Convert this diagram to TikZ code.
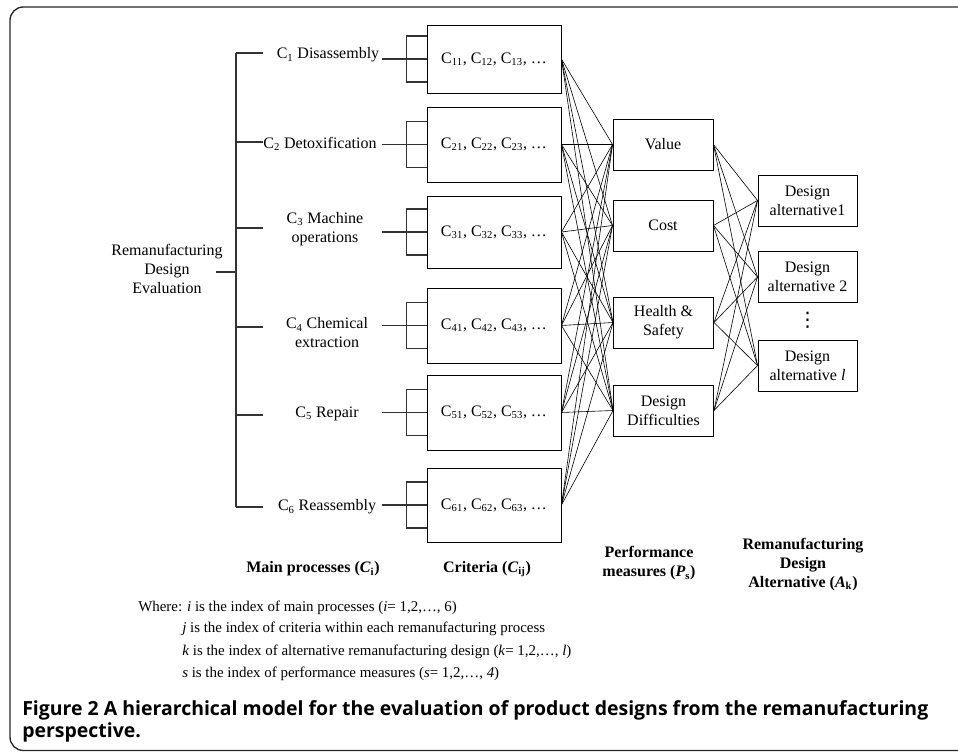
\documentclass[tikz,border=0pt]{standalone}
\usepackage{fontspec}
\setmainfont{Liberation Serif}
\newfontfamily\capfont{Open Sans}
\newfontfamily\symfont{DejaVu Sans}
\usetikzlibrary{positioning,calc}
\tikzset{
    treeline/.style={draw=black!80, line width=0.9pt},
    link/.style={draw=black, line width=0.45pt},
    critbox/.style={draw, line width=0.7pt, minimum width=100.5pt, inner sep=0pt},
    perfbox/.style={draw, line width=0.7pt, minimum width=75pt, minimum height=38.25pt, align=center, inner sep=0pt},
    altbox/.style={perfbox, minimum width=74.25pt},
    proc/.style={align=center, inner sep=0pt},
    axislabel/.style={font=\bfseries\fontsize{12}{14.25}\selectfont, align=center, inner sep=0pt},
    whereline/.style={font=\fontsize{11.2}{13}\selectfont, anchor=base west, inner sep=0pt},
    capline/.style={font=\capfont\bfseries\fontsize{14.6}{17}\selectfont, anchor=base west, inner sep=0pt}
}
\begin{document}
\begin{tikzpicture}[x=0.75pt, y=-0.75pt, font=\fontsize{12}{14.25}\selectfont]
    \useasboundingbox (0,0) rectangle (958,752);
    % outer frame
    \draw[line width=1pt, black!85, rounded corners=10] (962,7) -- (10,7) -- (10,750.5) -- (962,750.5);

    % root and main processes
    \node[proc] (root) at (167,269) {Remanufacturing\\Design\\Evaluation};
    \coordinate (trunktop) at (236,53);
    \coordinate (trunkbot) at (236,507);
    \coordinate (rootstub) at (216,272);
    \draw[treeline] (trunktop) -- (trunkbot);
    \draw[treeline] (rootstub) -- (rootstub -| trunktop);

    \node[proc] (p1) at (328,55) {C\textsubscript{1} Disassembly};
    \node[proc] (p2) at (320,144) {C\textsubscript{2} Detoxification};
    \node[proc] (p3) at (325,229) {C\textsubscript{3} Machine\\operations};
    \node[proc] (p4) at (327,333) {C\textsubscript{4} Chemical\\extraction};
    \node[proc] (p5) at (327,414) {C\textsubscript{5} Repair};
    \node[proc] (p6) at (327,507) {C\textsubscript{6} Reassembly};

    \foreach \i/\y in {1/53,2/142,3/228,4/327,5/415,6/507} {
        \coordinate (br\i) at (263,\y);
        \draw[treeline] (br\i -| trunktop) -- (br\i);
    }

    % criteria
    \foreach \i/\y/\h in {1/59/68,2/144.5/75,3/232/72,4/325.5/75,5/412.5/75,6/505/74} {
        \node[critbox, minimum height=\h*0.75pt] (c\i) at (494,\y)
            {C\textsubscript{\i1}, C\textsubscript{\i2}, C\textsubscript{\i3}, \ldots};
        \draw[treeline] (c\i.west) -- ++(-45,0);
        \draw[treeline] ($(c\i.west)+(0,-23)$) -- ++(-20,0) -- ++(0,46) -- ++(20,0);
    }

    % performance measures
    \node[perfbox] (value) at (663,144.5) {Value};
    \node[perfbox] (cost) at (663,225.5) {Cost};
    \node[perfbox] (health) at (663.5,322.5) {Health \&\\Safety};
    \node[perfbox] (diff) at (663.5,410.5) {Design\\Difficulties};

    % design alternatives
    \node[altbox] (alt1) at (807.5,200.5) {Design\\alternative1};
    \node[altbox] (alt2) at (807.5,277) {Design\\alternative 2};
    \node[altbox] (altl) at (807.5,365.5) {Design\\alternative \textit{l}};
    \node[inner sep=0pt, font=\symfont\fontsize{15}{15}\selectfont] (vdots) at (807.5,320.5) {⋮};

    \foreach \i in {1,...,6}
        \foreach \p in {value,cost,health,diff}
            \draw[link] (c\i.east) -- (\p.west);
    \foreach \p in {value,cost,health,diff}
        \foreach \a in {alt1,alt2,altl}
            \draw[link] (\p.east) -- (\a.west);

    % level labels
    \node[axislabel] (lproc) at (313,569) {Main processes (\textit{C}\textsubscript{i})};
    \node[axislabel] (lcrit) at (487,569) {Criteria (\textit{C}\textsubscript{ij})};
    \node[axislabel] (lperf) at (649,563.5) {Performance\\measures (\textit{P}\textsubscript{s})};
    \node[axislabel] (lalt) at (803,564.5) {Remanufacturing\\Design\\Alternative (\textit{A}\textsubscript{k})};

    % index notes
    \node[whereline] (where1) at (138,611) {Where: \textit{i} is the index of main processes (\textit{i}= 1,2,\ldots, 6)};
    \node[whereline] (where2) at (182,633) {\textit{j} is the index of criteria within each remanufacturing process};
    \node[whereline] (where3) at (182,655) {\textit{k} is the index of alternative remanufacturing design (\textit{k}= 1,2,\ldots, \textit{l})};
    \node[whereline] (where4) at (182,677) {\textit{s} is the index of performance measures (\textit{s}= 1,2,\ldots, \textit{4})};

    % caption
    \node[capline] (cap1) at (22,715) {Figure 2 A hierarchical model for the evaluation of product designs from the remanufacturing};
    \node[capline] (cap2) at (22,737) {perspective.};
\end{tikzpicture}
\end{document}
